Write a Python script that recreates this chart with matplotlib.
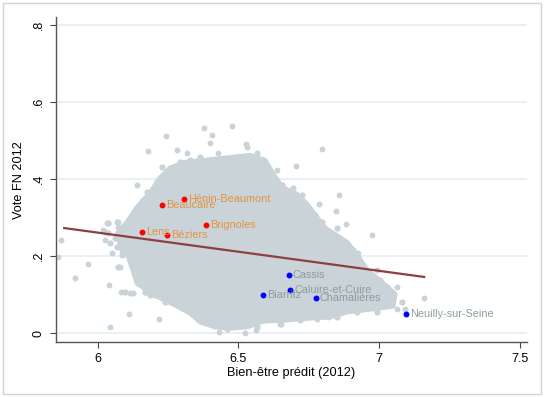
import matplotlib
matplotlib.use('Agg')
import matplotlib.pyplot as plt
from matplotlib.patches import Polygon, Rectangle

plt.rcParams['font.family'] = ['Liberation Sans', 'DejaVu Sans']

# contour of the dense cloud of communes (bien-etre, vote FN)
cloud_x = [6.104, 6.140, 6.186, 6.221, 6.257, 6.310, 6.381, 6.452, 6.541, 6.595,
           6.620, 6.655, 6.708, 6.744, 6.779, 6.808, 6.843, 6.886, 6.921, 6.957,
           7.014, 7.057, 7.049, 6.968, 6.886, 6.826, 6.754, 6.673, 6.587, 6.531,
           6.470, 6.417, 6.364, 6.328, 6.275, 6.232, 6.186, 6.140, 6.125, 6.104,
           6.079, 6.072]
cloud_y = [0.288, 0.327, 0.364, 0.403, 0.429, 0.444, 0.449, 0.455, 0.462, 0.449,
           0.418, 0.379, 0.361, 0.335, 0.301, 0.273, 0.257, 0.236, 0.205, 0.164,
           0.130, 0.101, 0.070, 0.062, 0.055, 0.042, 0.039, 0.034, 0.031, 0.016,
           0.013, 0.016, 0.029, 0.052, 0.073, 0.088, 0.106, 0.130, 0.164, 0.208,
           0.229, 0.262]

# communes on the ragged edge of the cloud
edge_x = [6.133, 6.144, 6.186, 6.168, 6.210, 6.085, 6.121, 6.068, 6.103, 6.038,
          6.061, 6.127, 6.162, 6.186, 6.150, 6.115, 6.085, 6.227, 6.233, 6.292,
          6.849, 6.891, 6.908, 6.991, 7.003, 7.027, 7.050, 7.080, 6.991, 6.920,
          6.849, 6.719, 6.648, 6.565, 6.458, 6.328, 6.364, 6.446, 6.494, 6.565,
          6.588, 6.257, 6.210, 6.174, 6.612, 6.654, 6.695, 6.725, 6.748, 6.772,
          6.796, 6.037, 6.069, 6.122, 6.026, 6.072, 6.044, 6.086, 6.122, 6.072,
          6.133, 6.143, 6.097, 6.125, 6.168, 6.204, 6.239, 6.161, 6.133]
edge_y = [0.159, 0.133, 0.099, 0.107, 0.103, 0.203, 0.190, 0.224, 0.229, 0.259,
          0.246, 0.216, 0.345, 0.311, 0.306, 0.276, 0.272, 0.432, 0.406, 0.445,
          0.272, 0.229, 0.216, 0.164, 0.138, 0.120, 0.103, 0.081, 0.055, 0.055,
          0.042, 0.034, 0.025, 0.016, 0.012, 0.449, 0.458, 0.449, 0.458, 0.467,
          0.449, 0.419, 0.393, 0.367, 0.419, 0.384, 0.376, 0.358, 0.328, 0.306,
          0.289, 0.286, 0.288, 0.288, 0.262, 0.260, 0.234, 0.216, 0.197, 0.171,
          0.164, 0.130, 0.106, 0.104, 0.106, 0.099, 0.081, 0.340, 0.314]

# isolated communes around the cloud
out_x = [5.858, 5.870, 5.921, 5.966, 6.044, 6.041, 6.084, 6.111, 6.138, 6.180,
         6.244, 6.378, 6.479, 6.407, 6.527, 6.797, 6.703, 6.856, 6.846, 6.883,
         6.973, 7.063, 7.158, 7.065, 6.926, 6.219, 6.522, 6.430, 6.562, 6.652,
         6.281, 6.316, 6.429, 6.399, 6.529, 6.227, 6.072, 6.032, 6.636, 6.788,
         6.115, 6.079, 6.050, 6.026, 6.020, 6.038, 6.073, 6.174, 6.144, 7.092,
         6.778, 6.820]
out_y = [0.198, 0.243, 0.144, 0.179, 0.015, 0.124, 0.108, 0.051, 0.384, 0.474,
         0.513, 0.533, 0.538, 0.515, 0.492, 0.478, 0.434, 0.358, 0.318, 0.283,
         0.255, 0.120, 0.092, 0.062, 0.208, 0.038, 0.000, 0.004, 0.008, 0.025,
         0.477, 0.468, 0.467, 0.493, 0.484, 0.406, 0.289, 0.285, 0.423, 0.335,
         0.105, 0.172, 0.207, 0.242, 0.268, 0.285, 0.276, 0.155, 0.129, 0.064,
         0.038, 0.042]

# highlighted communes
red_names = ['Hénin-Beaumont', 'Beaucaire', 'Brignoles', 'Lens', 'Béziers']
red_x = [6.306, 6.229, 6.385, 6.157, 6.245]
red_y = [0.349, 0.333, 0.281, 0.263, 0.254]
blue_names = ['Cassis', 'Caluire-et-Cuire', 'Biarritz', 'Chamalières', 'Neuilly-sur-Seine']
blue_x = [6.679, 6.685, 6.588, 6.774, 7.097]
blue_y = [0.151, 0.111, 0.098, 0.092, 0.049]

# linear fit
fit_x = [5.881, 7.160]
fit_y = [0.273, 0.146]

xticks = [6, 6.5, 7, 7.5]
xtick_labels = ['6', '6.5', '7', '7.5']
yticks = [0, 0.2, 0.4, 0.6, 0.8]
ytick_labels = ['0', '.2', '.4', '.6', '.8']

gray = '#c9d3d8'

fig = plt.figure(figsize=(5.44, 3.97), dpi=100)
fig.patches.append(Rectangle((0.006, 0.008), 0.988, 0.985, transform=fig.transFigure,
                             fill=False, edgecolor='#d4d4d4', linewidth=1.0))
ax = fig.add_axes([0.103, 0.1385, 0.866, 0.8175])

for yt in yticks:
    ax.axhline(yt, color='#e6eff3', linewidth=1.3, zorder=0)

ax.add_patch(Polygon(list(zip(cloud_x, cloud_y)), closed=True, facecolor=gray,
                     edgecolor=gray, linewidth=3.5, joinstyle='round', zorder=1))
ax.scatter(edge_x, edge_y, s=20, color=gray, linewidths=0, zorder=1)
ax.scatter(out_x, out_y, s=18, color=gray, linewidths=0, zorder=1)

ax.plot(fit_x, fit_y, color='#8e3f3f', linewidth=1.6, zorder=2)

ax.scatter(red_x, red_y, s=18, color='#ff0000', linewidths=0, zorder=3)
ax.scatter(blue_x, blue_y, s=18, color='#0000ff', linewidths=0, zorder=3)
for n, x, y in zip(red_names, red_x, red_y):
    ax.annotate(n, (x, y), xytext=(3, 0), textcoords='offset points',
                va='center', ha='left', fontsize=7.8, color='#e39441', zorder=4)
for n, x, y in zip(blue_names, blue_x, blue_y):
    ax.annotate(n, (x, y), xytext=(3, 0), textcoords='offset points',
                va='center', ha='left', fontsize=7.8, color='#8c9c9c', zorder=4)

ax.set_xlim(5.852, 7.526)
ax.set_ylim(-0.023, 0.82)
ax.set_xticks(xticks)
ax.set_xticklabels(xtick_labels, fontsize=9)
ax.set_yticks(yticks)
ax.set_yticklabels(ytick_labels, fontsize=9, rotation=90, va='center')
ax.tick_params(direction='out', length=4, width=0.8, color='#444444', pad=4)
ax.set_xlabel('Bien-être prédit (2012)', fontsize=9.2, labelpad=1)
ax.set_ylabel('Vote FN 2012', fontsize=9.2, labelpad=6)

for side in ['top', 'right']:
    ax.spines[side].set_visible(False)
for side in ['left', 'bottom']:
    ax.spines[side].set_color('#555555')
    ax.spines[side].set_linewidth(1.0)

fig.savefig('out.png', dpi=100)
